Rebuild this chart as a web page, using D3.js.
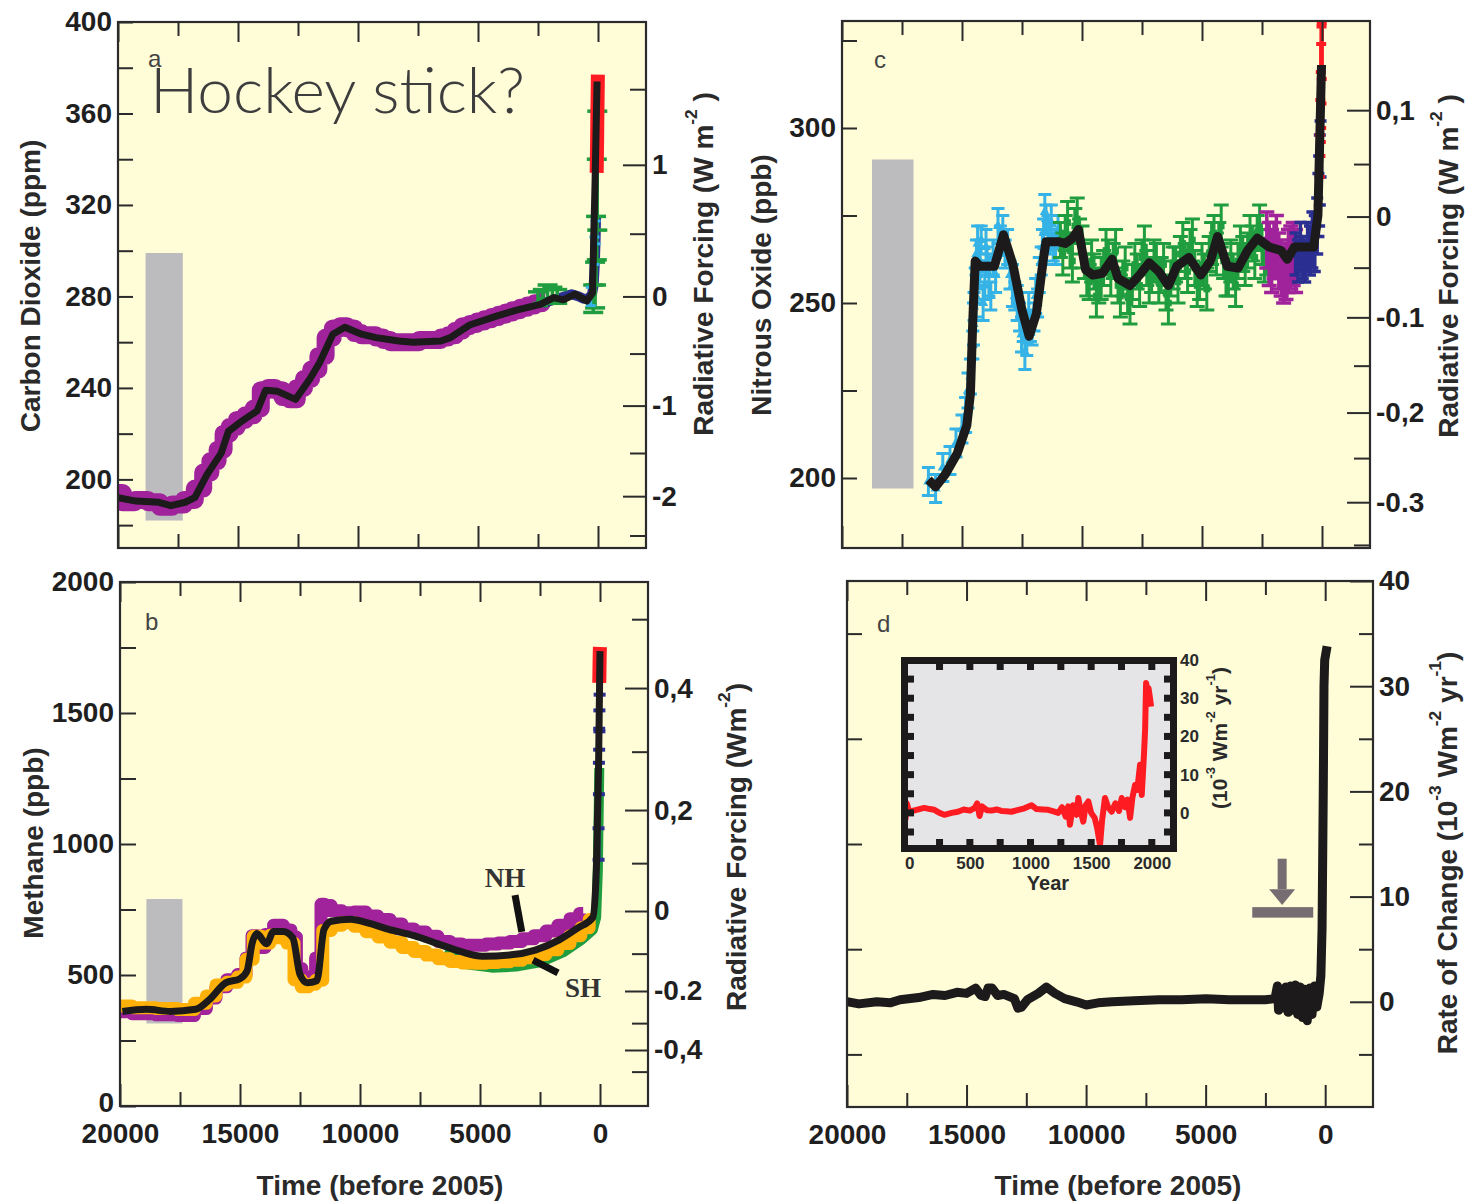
<!DOCTYPE html>
<html>
<head>
<meta charset="utf-8">
<script src="https://cdn.jsdelivr.net/npm/d3@7"></script>
<style>
  body { margin: 0; background: #fff; }
</style>
</head>
<body>
<script>
// ---------- data ----------
const timeDomain = [20000, -2000];
const majorYears = [20000, 15000, 10000, 5000, 0];
const minorYears = [17500, 12500, 7500, 2500];

// (a) carbon dioxide, ppm
const co2Ticks = [200, 240, 280, 320, 360, 400];
const co2Minor = [180, 220, 260, 300, 340, 380];
const co2RfTicks = [1, 0, -1, -2];
const co2RfLabels = ['1', '0', '-1', '-2'];
const co2RfMinor = [1.5, 0.5, -0.5, -1.5, -2.5];
const co2Glacial = [182, 299];
const co2GlacialSpan = [18850, 17300];
const co2Smooth = [[20000, 192], [19250, 190.5], [18300, 190], [17800, 188.5], [17200, 190], [16800, 192],
  [16300, 202], [15700, 211.5], [15400, 221], [14900, 225], [14200, 230], [13850, 239], [13350, 238.5],
  [12600, 235], [12000, 244], [11600, 251], [11050, 263.5], [10550, 266.5], [9850, 263.5], [9250, 262],
  [8300, 260.5], [7700, 260], [6550, 260.5], [6150, 262], [5350, 267.5], [4200, 271.5], [3400, 274],
  [2400, 276.5], [1850, 279.5], [1450, 278.5], [950, 281], [460, 278], [230, 281.5], [120, 331], [40, 374]];
const co2Dome = [[20000, 194], [19600, 190], [19000, 191], [18500, 190], [18000, 188], [17500, 189],
  [17000, 191], [16600, 196], [16300, 203], [16000, 208], [15700, 213], [15500, 220], [15200, 223],
  [14900, 226], [14500, 228], [14200, 231], [13900, 239], [13600, 240], [13300, 239], [13000, 236],
  [12700, 235], [12400, 240], [12100, 244], [11800, 248], [11500, 254], [11200, 262], [10900, 266],
  [10600, 267], [10300, 266], [10000, 264], [9700, 263], [9400, 263], [9100, 262], [8800, 261],
  [8500, 260], [8200, 260], [7900, 260], [7600, 260], [7300, 261], [7000, 261], [6700, 261],
  [6400, 262], [6100, 263], [5800, 265], [5500, 267], [5200, 268], [4900, 269], [4600, 270],
  [4300, 271], [4000, 272], [3700, 273], [3400, 274], [3100, 275], [2800, 276], [2500, 277], [2200, 278]];
const co2Navy = [[2300, 277], [2000, 278], [1700, 279], [1400, 280], [1100, 281], [800, 280], [600, 279],
  [400, 279], [250, 281], [180, 285], [130, 295], [100, 305], [80, 315]];
const co2Green = [[2500, 279, 3], [2300, 280, 3], [2100, 282, 3], [1900, 281, 3], [1700, 280, 3],
  [200, 279, 6], [120, 285, 10], [80, 300, 15], [50, 318, 22], [30, 335, 26]];
const co2Cyan = [[300, 280, 4], [150, 300, 6], [100, 308, 5]];
const co2Red = [[55, 334], [45, 342], [35, 350], [25, 360], [15, 368], [5, 377]];

// (b) methane, ppb
const ch4Ticks = [0, 500, 1000, 1500, 2000];
const ch4Minor = [250, 750, 1250, 1750];
const ch4RfTicks = [0.4, 0.2, 0, -0.2, -0.4];
const ch4RfLabels = ['0,4', '0,2', '0', '-0.2', '-0,4'];
const ch4RfMinor = [0.5, 0.3, 0.1, -0.1, -0.3, -0.5];
const ch4Glacial = [315, 790];
const ch4GlacialSpan = [18900, 17400];
const ch4Smooth = [[19900, 361], [18900, 369], [17900, 361], [16850, 369], [16250, 408], [15600, 470],
  [15000, 486], [14700, 517], [14500, 619], [14300, 658], [13900, 619], [13600, 666], [13200, 666],
  [12800, 642], [12500, 502], [12200, 470], [11800, 478], [11500, 674], [11200, 705], [10400, 713],
  [9600, 697], [8800, 674], [7750, 650], [6750, 619], [5750, 588], [4900, 572], [3700, 577],
  [2700, 595], [1700, 634], [900, 681], [300, 720], [150, 908], [60, 1299], [0, 1736]];
const ch4North = [[20000, 360], [19000, 352], [18000, 348], [17200, 345], [16600, 372], [16200, 412],
  [15800, 455], [15300, 482], [14900, 502], [14600, 565], [14400, 650], [14100, 605], [13800, 655],
  [13400, 690], [13000, 672], [12750, 645], [12550, 525], [12300, 482], [12000, 492], [11700, 565],
  [11550, 770], [11400, 765], [11000, 745], [10500, 738], [10000, 740], [9500, 725], [9000, 712],
  [8500, 695], [8000, 676], [7500, 664], [7000, 648], [6500, 628], [6000, 618], [5500, 614],
  [5000, 614], [4500, 618], [4000, 622], [3500, 628], [3000, 638], [2500, 650], [2000, 668],
  [1500, 690], [1000, 715], [700, 735]];
const ch4South = [[20000, 382], [19000, 375], [18000, 372], [17200, 368], [16600, 392], [16200, 420],
  [15800, 462], [15300, 472], [14900, 492], [14600, 560], [14300, 648], [13900, 622], [13600, 652],
  [13200, 642], [12900, 622], [12600, 482], [12300, 455], [12000, 465], [11700, 480], [11400, 670],
  [11000, 690], [10500, 700], [10000, 686], [9500, 665], [9000, 645], [8500, 625], [8000, 605],
  [7500, 590], [7000, 576], [6500, 562], [6000, 552], [5500, 546], [5000, 545], [4500, 548],
  [4000, 551], [3500, 556], [3000, 566], [2500, 578], [2000, 596], [1500, 620], [1000, 650],
  [600, 680], [300, 712]];
const ch4Green = [[6500, 585], [5500, 540], [4500, 528], [3500, 532], [2500, 548], [1500, 588],
  [800, 632], [300, 672], [160, 720], [90, 900], [50, 1150], [30, 1290]];
const ch4Navy = [[60, 1000, 60], [45, 1250, 60], [35, 1400, 40], [25, 1470, 40], [15, 1600, 30], [8, 1660, 25]];
const ch4Red = [[30, 1615], [20, 1680], [10, 1730], [2, 1752]];
const nhLabel = { t: 4800, v: 836 };
const nhPointer = [[3540, 805], [3260, 665]];
const shLabel = { t: 1460, v: 416 };
const shPointer = [[2790, 557], [1750, 508]];

// (c) nitrous oxide, ppb
const n2oTicks = [200, 250, 300];
const n2oMinor = [225, 275, 325];
const n2oRfTicks = [0.1, 0, -0.1, -0.2, -0.3];
const n2oRfLabels = ['0,1', '0', '-0.1', '-0,2', '-0.3'];
const n2oRfMinor = [0.05, -0.05, -0.15, -0.25, -0.35];
const n2oGlacial = [197, 291];
const n2oGlacialSpan = [18750, 17020];
const n2oSmooth = [[16400, 199.5], [16100, 197.5], [15700, 201], [15200, 207], [14800, 215], [14650, 224],
  [14550, 245], [14450, 262], [14250, 260.5], [13950, 260.5], [13650, 260.5], [13270, 269.5],
  [12880, 261], [12500, 248], [12200, 240.5], [11900, 247], [11600, 263], [11500, 267.5],
  [11000, 267.5], [10700, 267], [10400, 268.5], [10150, 271], [9850, 259.5], [9550, 258],
  [9150, 258.5], [8750, 262.5], [8500, 257], [8000, 255], [7600, 258], [7200, 261.5], [6800, 259],
  [6400, 255], [6050, 260.5], [5550, 263], [5050, 258], [4650, 262], [4350, 269], [3950, 260.5],
  [3500, 260], [3100, 265], [2700, 268.5], [2200, 266], [1700, 265], [1450, 262.5], [1150, 266],
  [350, 266], [170, 275], [100, 295], [20, 318]];
const n2oCyan = [[16400, 199, 4], [16100, 197, 4], [15800, 203, 4], [15500, 205, 4], [15250, 210, 4],
  [15000, 214, 4], [14850, 218, 5], [14750, 225, 5], [14650, 229, 5], [14550, 238, 4], [14500, 249, 4],
  [14450, 255, 5], [14400, 264, 4], [14300, 258, 4], [14200, 268, 4], [14050, 255, 4], [13950, 262, 4],
  [13800, 252, 4], [13600, 258, 5], [13400, 268, 4], [13200, 264, 4], [13000, 258, 4], [12800, 252, 4],
  [12600, 246, 4], [12450, 243, 4], [12300, 239, 4], [12150, 243, 4], [12000, 246, 4], [11850, 250, 4],
  [11700, 262, 4], [11600, 270, 4], [11500, 274, 4], [11350, 268, 4], [11200, 266, 4], [11000, 271, 4]];
const n2oCyanExtra = [[14520, 244, 6], [14420, 252, 6], [14350, 267, 5], [14250, 262, 6], [14120, 250, 5],
  [14000, 266, 5], [13880, 258, 6], [13700, 263, 5], [13500, 272, 5], [13300, 270, 5], [13100, 266, 5],
  [12900, 255, 6], [12700, 250, 5], [12520, 241, 5], [12380, 236, 5], [12220, 247, 6], [12080, 243, 5],
  [11930, 252, 5], [11780, 258, 5], [11650, 266, 5], [11550, 276, 5], [11420, 270, 5], [11280, 273, 5],
  [11100, 266, 5]];
const n2oGreen = [[10900, 268, 5], [10700, 270, 5], [10500, 265, 5], [10300, 272, 5], [10100, 269, 5],
  [9900, 262, 5], [9700, 256, 5], [9500, 259, 5], [9300, 255, 5], [9100, 260, 5], [8900, 263, 5],
  [8700, 262, 5], [8500, 255, 5], [8300, 257, 5], [8100, 252, 5], [7900, 256, 5], [7700, 259, 5],
  [7500, 263, 5], [7300, 260, 5], [7100, 258, 5], [6900, 262, 5], [6700, 258, 5], [6500, 253, 5],
  [6300, 257, 5], [6100, 261, 5], [5900, 264, 5], [5700, 262, 5], [5500, 266, 5], [5300, 260, 5],
  [5100, 256, 5], [4900, 259, 5], [4700, 264, 5], [4500, 270, 5], [4300, 268, 5], [4100, 262, 5],
  [3900, 257, 5], [3700, 259, 5], [3500, 262, 5], [3300, 264, 5], [3100, 265, 5], [2900, 267, 5],
  [2700, 270, 5], [2500, 266, 5], [2300, 263, 5]];
const n2oGreenExtra = [[10800, 264, 6], [10600, 273, 6], [10400, 262, 6], [10200, 274, 6], [10000, 266, 6],
  [9800, 258, 6], [9600, 262, 6], [9400, 252, 6], [9200, 257, 6], [9000, 265, 6], [8800, 258, 6],
  [8600, 265, 6], [8400, 252, 6], [8200, 260, 6], [8000, 250, 6], [7800, 261, 6], [7600, 255, 6],
  [7400, 266, 6], [7200, 256, 6], [7000, 262, 6], [6800, 256, 6], [6600, 261, 6], [6400, 250, 6],
  [6200, 260, 6], [6000, 256, 6], [5800, 267, 6], [5600, 259, 6], [5400, 268, 6], [5200, 255, 6],
  [5000, 261, 6], [4800, 254, 6], [4600, 267, 6], [4400, 264, 6], [4200, 272, 6], [4000, 258, 6],
  [3800, 262, 6], [3600, 255, 6], [3400, 266, 6], [3200, 261, 6], [3000, 269, 6], [2800, 263, 6],
  [2600, 272, 6], [2400, 262, 6]];
const n2oPurple = [[2300, 268, 8], [2200, 264, 9], [2100, 262, 9], [2000, 265, 8], [1900, 266, 9],
  [1800, 262, 8], [1700, 260, 8], [1600, 258, 8], [1500, 259, 8], [1400, 262, 9], [1300, 263, 9],
  [1200, 264, 9], [1100, 262, 9]];
const n2oNavy = [[1100, 264, 6], [1000, 262, 6], [900, 266, 7], [800, 263, 6], [700, 262, 6],
  [600, 266, 7], [500, 265, 7], [400, 268, 8], [300, 267, 8], [200, 272, 8], [150, 278, 9],
  [120, 282, 10], [90, 288, 10], [60, 294, 8]];
const n2oRed = [[90, 292, 6], [70, 300, 8], [50, 306, 10], [35, 312, 12], [20, 318, 11], [10, 322, 8]];

// (d) rate of change of radiative forcing, 10^-3 W m^-2 yr^-1
const rateTicks = [0, 10, 20, 30, 40];
const rateMinor = [-5, 5, 15, 25, 35];
const rateSmooth = [[20000, 0], [19500, -0.2], [18750, 0], [18200, -0.1], [17780, 0.2], [17000, 0.4],
  [16400, 0.7], [15900, 0.6], [15400, 0.9], [15000, 0.8], [14620, 1.3], [14400, 0.6], [14220, 0.5],
  [14100, 1.3], [13930, 1.3], [13700, 0.6], [13440, 0.7], [13000, 0.3], [12850, -0.6], [12700, -0.5],
  [12450, 0.2], [12000, 0.8], [11660, 1.4], [11300, 0.8], [10900, 0.3], [10400, 0], [9990, -0.3],
  [9500, -0.1], [8910, 0], [8000, 0.1], [6950, 0.2], [6000, 0.2], [4980, 0.3], [4000, 0.2],
  [3010, 0.2], [2500, 0.2], [2100, 0.3], [2000, 1.5], [1950, -0.8], [1850, 1.2], [1750, -0.6],
  [1650, 1.4], [1550, -1], [1450, 1.5], [1350, -0.8], [1250, 1.6], [1150, -1.2], [1050, 1.4],
  [950, -1.5], [850, 1.2], [750, -1.8], [650, 1.3], [550, -1.2], [450, 1.5], [350, -0.5], [250, 0.8],
  [180, 2.5], [130, 7], [80, 20], [50, 30], [20, 32.5], [-80, 33.8]];
const arrowMark = { t: 1800, top: 13.6, headTop: 10.7, tip: 9.2 };
const barMark = { t0: 3050, t1: 500, v0: 9.0, v1: 8.0 };

// inset of (d): last 2000 years
const insetYears = [0, 500, 1000, 1500, 2000];
const insetYearMarks = [250, 500, 750, 1000, 1250, 1500, 1750, 2000];
const insetTicks = [0, 10, 20, 30, 40];
const insetMarks = [-5, 0, 5, 10, 15, 20, 25, 30, 35];
const insetRate = [[-40, 1.3], [-30, -1.5], [-20, 2.5], [0, 0.3], [60, 0.8], [124, 1.3], [170, 1],
  [207, 0.8], [250, 0], [289, -0.5], [350, 0], [402, 0.3], [450, 0.9], [500, 0.6], [540, 1.3],
  [560, 2.5], [580, -0.8], [600, 1.7], [640, 0.7], [678, 0.6], [720, 0.9], [760, 0.5], [800, 0.4],
  [843, 0.3], [900, 0.8], [950, 1.2], [1008, 2], [1050, 1], [1100, 0.9], [1146, 0.8], [1190, 0.4],
  [1229, 0], [1260, 1.5], [1290, -1], [1311, 1.7], [1325, -3.1], [1350, 2], [1380, -0.5],
  [1394, 3.9], [1410, 1], [1435, -2.3], [1455, 2], [1477, 3], [1500, 0], [1529, -1.3], [1550, -4],
  [1573, -8.4], [1590, -2], [1614, 3.9], [1640, 1.5], [1669, 0.3], [1700, 2.5], [1730, 0.5],
  [1752, 3.9], [1780, 1.5], [1800, 3.5], [1821, -1.3], [1840, 4], [1862, 7.3], [1880, 6],
  [1903, 12.6], [1917, 4.7], [1935, 15], [1945, 22], [1953, 34], [1963, 32], [1973, 32.6],
  [1985, 30], [1994, 27.8]];

// forcing formulas used for the right-hand axes
const rfToCo2 = (rf) => 280 * Math.exp(rf / 5.35);
const rfToN2o = (rf) => Math.pow(16.574 + rf / 0.112, 2);
const rfToCh4 = (rf) => Math.pow(27.28 + rf * 31.65, 2);

// ---------- layout ----------
const FONT = 'Liberation Sans, Arial, Helvetica, sans-serif';
const INK = '#2b2b2b';
const BG = '#fffcd8';
const C = {
  purple: '#a0239c', navy: '#2a2f91', green: '#1f9d3f', cyan: '#35b3e6',
  red: '#ff1b22', orange: '#ffb10a', black: '#1c1a1a', grey: '#bcbcbe'
};

const svg = d3.select('body').append('svg').attr('width', 1472).attr('height', 1202);
const defs = svg.append('defs');

function makePanel(id, box, yDomain) {
  const x = d3.scaleLinear().domain(timeDomain).range([box.x0, box.x1]);
  const y = d3.scaleLinear().domain(yDomain).range([box.y1, box.y0]);
  defs.append('clipPath').attr('id', 'clip-' + id)
    .append('rect')
    .attr('x', box.x0).attr('y', box.y0)
    .attr('width', box.x1 - box.x0).attr('height', box.y1 - box.y0);
  const g = svg.append('g');
  g.append('rect')
    .attr('x', box.x0).attr('y', box.y0)
    .attr('width', box.x1 - box.x0).attr('height', box.y1 - box.y0)
    .attr('fill', BG);
  const plot = g.append('g').attr('clip-path', `url(#clip-${id})`);
  return { box, x, y, g, plot };
}

function ticks(p, side, scale, values, len, labels) {
  const maker = { top: d3.axisTop, bottom: d3.axisBottom, left: d3.axisLeft, right: d3.axisRight }[side];
  const pos = {
    top: `translate(0,${p.box.y0})`, bottom: `translate(0,${p.box.y1})`,
    left: `translate(${p.box.x0},0)`, right: `translate(${p.box.x1},0)`
  }[side];
  const axis = maker(scale)
    .tickValues(values)
    .tickSize(-len)
    .tickPadding(side === 'bottom' ? 17 : 6)
    .tickFormat(labels ? (d, i) => labels[i] : () => '');
  const a = p.g.append('g').attr('transform', pos).call(axis);
  a.select('.domain').remove();
  a.selectAll('.tick line').attr('stroke', INK).attr('stroke-width', 2);
  a.selectAll('.tick text')
    .attr('font-family', FONT).attr('font-size', 28).attr('font-weight', 'bold').attr('fill', '#1f1f1f');
  return a;
}

function timeTicks(p, withLabels) {
  ticks(p, 'top', p.x, majorYears, 20);
  ticks(p, 'top', p.x, minorYears, 14);
  ticks(p, 'bottom', p.x, majorYears, 22, withLabels ? majorYears.map(d3.format('d')) : null);
  ticks(p, 'bottom', p.x, minorYears, 14);
}

function frame(p) {
  p.g.append('rect')
    .attr('x', p.box.x0).attr('y', p.box.y0)
    .attr('width', p.box.x1 - p.box.x0).attr('height', p.box.y1 - p.box.y0)
    .attr('fill', 'none').attr('stroke', INK).attr('stroke-width', 2.2);
}

function glacialBar(p, span, range) {
  p.plot.append('rect')
    .attr('x', p.x(span[0])).attr('width', p.x(span[1]) - p.x(span[0]))
    .attr('y', p.y(range[1])).attr('height', p.y(range[0]) - p.y(range[1]))
    .attr('fill', C.grey);
}

function band(p, data, color, width, curve) {
  p.plot.append('path')
    .datum(data)
    .attr('d', d3.line().x((d) => p.x(d[0])).y((d) => p.y(d[1])).curve(curve || d3.curveLinear))
    .attr('fill', 'none')
    .attr('stroke', color)
    .attr('stroke-width', width)
    .attr('stroke-linejoin', 'round');
}

function errorBars(p, data, color, cap, width, marker) {
  const g = p.plot.append('g').attr('stroke', color).attr('stroke-width', width);
  g.selectAll('line.v').data(data).join('line').attr('class', 'v')
    .attr('x1', (d) => p.x(d[0])).attr('x2', (d) => p.x(d[0]))
    .attr('y1', (d) => p.y(d[1] - d[2])).attr('y2', (d) => p.y(d[1] + d[2]));
  [-1, 1].forEach((s) => {
    g.selectAll('line.c' + (s + 1)).data(data).join('line').attr('class', 'c' + (s + 1))
      .attr('x1', (d) => p.x(d[0]) - cap / 2).attr('x2', (d) => p.x(d[0]) + cap / 2)
      .attr('y1', (d) => p.y(d[1] + s * d[2])).attr('y2', (d) => p.y(d[1] + s * d[2]));
  });
  if (marker) {
    p.plot.append('g').selectAll('path').data(data).join('path')
      .attr('transform', (d) => `translate(${p.x(d[0])},${p.y(d[1])})`)
      .attr('d', d3.symbol(marker, 45))
      .attr('fill', color);
  }
}

function vTitle(x, y, parts, size) {
  const t = svg.append('text')
    .attr('transform', `translate(${x},${y}) rotate(-90)`)
    .attr('text-anchor', 'middle').attr('dominant-baseline', 'central')
    .attr('font-family', FONT).attr('font-size', size).attr('font-weight', 'bold').attr('fill', '#2a2a2a');
  let raised = false;
  parts.forEach((part) => {
    const sup = Array.isArray(part);
    const ts = t.append('tspan').text(sup ? part[0] : part);
    if (sup && !raised) { ts.attr('dy', -size * 0.42).attr('font-size', size * 0.62); raised = true; }
    else if (sup) { ts.attr('font-size', size * 0.62); }
    else if (raised) { ts.attr('dy', size * 0.42); raised = false; }
  });
}

function panelLetter(x, y, s) {
  svg.append('text').attr('x', x).attr('y', y).text(s)
    .attr('font-family', FONT).attr('font-size', 24).attr('fill', '#444');
}

// ---------- (a) CO2 ----------
const pa = makePanel('a', { x0: 118, x1: 646, y0: 22, y1: 548 }, [170, 400]);
glacialBar(pa, co2GlacialSpan, co2Glacial);
band(pa, co2Dome, C.purple, 18, d3.curveStep);
band(pa, co2Navy, C.navy, 10);
errorBars(pa, co2Green, C.green, 20, 3.5);
errorBars(pa, co2Cyan, C.cyan, 10, 3);
band(pa, co2Red, C.red, 14);
band(pa, co2Smooth, C.black, 7);
timeTicks(pa, false);
ticks(pa, 'left', pa.y, co2Ticks, 15, co2Ticks.map(String));
ticks(pa, 'left', pa.y, co2Minor, 15);
ticks(pa, 'right', pa.y, co2RfTicks.map(rfToCo2), 23, co2RfLabels);
ticks(pa, 'right', pa.y, co2RfMinor.map(rfToCo2), 16);
frame(pa);

// ---------- (c) N2O ----------
const pc = makePanel('c', { x0: 842, x1: 1370, y0: 21, y1: 548 }, [180, 330.57]);
glacialBar(pc, n2oGlacialSpan, n2oGlacial);
errorBars(pc, n2oCyan, C.cyan, 13, 3, d3.symbolTriangle);
errorBars(pc, n2oCyanExtra, C.cyan, 13, 3, d3.symbolTriangle);
errorBars(pc, n2oGreenExtra, C.green, 15, 3, d3.symbolSquare);
errorBars(pc, n2oGreen, C.green, 15, 3, d3.symbolSquare);
errorBars(pc, n2oPurple, C.purple, 15, 3.5, d3.symbolSquare);
errorBars(pc, n2oNavy, C.navy, 12, 3.5, d3.symbolSquare);
errorBars(pc, n2oRed, C.red, 10, 4);
band(pc, n2oSmooth, C.black, 9);
timeTicks(pc, false);
ticks(pc, 'left', pc.y, n2oTicks, 15, n2oTicks.map(String));
ticks(pc, 'left', pc.y, n2oMinor, 15);
ticks(pc, 'right', pc.y, n2oRfTicks.map(rfToN2o), 23, n2oRfLabels);
ticks(pc, 'right', pc.y, n2oRfMinor.map(rfToN2o), 16);
frame(pc);

// ---------- (b) CH4 ----------
const pb = makePanel('b', { x0: 120, x1: 648, y0: 582, y1: 1106 }, [0, 2000]);
glacialBar(pb, ch4GlacialSpan, ch4Glacial);
band(pb, ch4North, C.purple, 13, d3.curveStep);
band(pb, ch4Green, C.green, 10);
band(pb, ch4South, C.orange, 13, d3.curveStep);
errorBars(pb, ch4Navy, C.navy, 12, 4);
band(pb, ch4Red, C.red, 14);
band(pb, ch4Smooth, C.black, 7, d3.curveMonotoneX);
[nhPointer, shPointer].forEach((pt) => {
  pb.plot.append('line')
    .attr('x1', pb.x(pt[0][0])).attr('y1', pb.y(pt[0][1]))
    .attr('x2', pb.x(pt[1][0])).attr('y2', pb.y(pt[1][1]))
    .attr('stroke', '#111').attr('stroke-width', 7);
});
[[nhLabel, 'NH'], [shLabel, 'SH']].forEach(([pos, s]) => {
  pb.g.append('text').attr('x', pb.x(pos.t)).attr('y', pb.y(pos.v)).text(s)
    .attr('font-family', 'Liberation Serif, Times New Roman, serif')
    .attr('font-size', 27).attr('font-weight', 'bold').attr('fill', '#333');
});
timeTicks(pb, true);
ticks(pb, 'left', pb.y, ch4Ticks, 16, ch4Ticks.map(String))
  .selectAll('.tick text').attr('dy', (d) => (d === 0 ? '0.2em' : '0.32em'));
ticks(pb, 'left', pb.y, ch4Minor, 16);
ticks(pb, 'right', pb.y, ch4RfTicks.map(rfToCh4), 23, ch4RfLabels);
ticks(pb, 'right', pb.y, ch4RfMinor.map(rfToCh4), 16);
frame(pb);

// ---------- (d) rate of change ----------
const pd = makePanel('d', { x0: 847, x1: 1373, y0: 581, y1: 1107 }, [-10, 40]);
band(pd, rateSmooth, C.black, 9);
const ax = pd.x(arrowMark.t);
pd.plot.append('rect')
  .attr('x', ax - 4.5).attr('width', 9)
  .attr('y', pd.y(arrowMark.top)).attr('height', pd.y(arrowMark.headTop) - pd.y(arrowMark.top))
  .attr('fill', '#766d72');
pd.plot.append('path')
  .attr('d', `M${ax - 13},${pd.y(arrowMark.headTop)}L${ax + 13},${pd.y(arrowMark.headTop)}L${ax},${pd.y(arrowMark.tip)}Z`)
  .attr('fill', '#766d72');
pd.plot.append('rect')
  .attr('x', pd.x(barMark.t0)).attr('width', pd.x(barMark.t1) - pd.x(barMark.t0))
  .attr('y', pd.y(barMark.v0)).attr('height', pd.y(barMark.v1) - pd.y(barMark.v0))
  .attr('fill', '#766d72');
timeTicks(pd, true);
ticks(pd, 'left', pd.y, rateMinor, 15);
ticks(pd, 'right', pd.y, rateTicks, 23, rateTicks.map(String));
ticks(pd, 'right', pd.y, rateMinor, 14);
frame(pd);

// inset
const inset = { x0: 908, x1: 1170, y0: 664, y1: 845 };
const ix = d3.scaleLinear().domain([-10, 2150]).range([inset.x0, inset.x1]);
const iy = d3.scaleLinear().domain([-8.4, 38.95]).range([inset.y1, inset.y0]);
const ig = svg.append('g');
defs.append('clipPath').attr('id', 'clip-inset').append('rect')
  .attr('x', inset.x0).attr('y', inset.y0).attr('width', inset.x1 - inset.x0).attr('height', inset.y1 - inset.y0);
ig.append('rect')
  .attr('x', inset.x0 - 3.5).attr('y', inset.y0 - 3.5)
  .attr('width', inset.x1 - inset.x0 + 7).attr('height', inset.y1 - inset.y0 + 7)
  .attr('fill', '#e5e5e7').attr('stroke', '#1c1a1a').attr('stroke-width', 7);
ig.append('path').datum(insetRate)
  .attr('clip-path', 'url(#clip-inset)')
  .attr('d', d3.line().x((d) => ix(d[0])).y((d) => iy(d[1])))
  .attr('fill', 'none').attr('stroke', C.red).attr('stroke-width', 6).attr('stroke-linejoin', 'round');
const marks = ig.append('g').attr('fill', '#1c1a1a');
insetYearMarks.forEach((yr) => {
  marks.append('rect').attr('x', ix(yr) - 3.5).attr('y', inset.y0).attr('width', 7).attr('height', 6);
  marks.append('rect').attr('x', ix(yr) - 3.5).attr('y', inset.y1 - 6).attr('width', 7).attr('height', 6);
});
insetMarks.forEach((v) => {
  marks.append('rect').attr('x', inset.x0).attr('y', iy(v) - 3.5).attr('width', 6).attr('height', 7);
  marks.append('rect').attr('x', inset.x1 - 6).attr('y', iy(v) - 3.5).attr('width', 6).attr('height', 7);
});
const insetAxisStyle = (a) => {
  a.select('.domain').remove();
  a.selectAll('.tick line').remove();
  a.selectAll('.tick text').attr('font-family', FONT).attr('font-size', 17).attr('font-weight', 'bold').attr('fill', '#2a2a2a');
};
ig.append('g').attr('transform', `translate(0,${inset.y1 + 7})`)
  .call(d3.axisBottom(ix).tickValues(insetYears).tickSize(0).tickPadding(5).tickFormat(d3.format('d')))
  .call(insetAxisStyle);
ig.append('g').attr('transform', `translate(${inset.x1 + 7},0)`)
  .call(d3.axisRight(iy).tickValues(insetTicks).tickSize(0).tickPadding(3).tickFormat(d3.format('d')))
  .call(insetAxisStyle);
ig.append('text').attr('x', 1048).attr('y', 890).attr('text-anchor', 'middle').text('Year')
  .attr('font-family', FONT).attr('font-size', 20).attr('font-weight', 'bold').attr('fill', '#2a2a2a');
vTitle(1219, 738, ['(10', ['-3'], ' Wm', ['-2'], ' yr', ['-1'], ')'], 21);

// ---------- titles ----------
vTitle(30, 286, ['Carbon Dioxide (ppm)'], 28);
vTitle(703, 264, ['Radiative Forcing (W m', ['-2'], ' )'], 28);
vTitle(761, 285, ['Nitrous Oxide (ppb)'], 28);
vTitle(1448, 266, ['Radiative Forcing (W m', ['-2'], ' )'], 28);
vTitle(33, 843, ['Methane (ppb)'], 28);
vTitle(736, 847, ['Radiative Forcing (Wm', ['-2'], ')'], 28);
vTitle(1447, 853, ['Rate of Change (10', ['-3'], ' Wm', ['-2'], ' yr', ['-1'], ')'], 28);

[[380, 'Time (before 2005)'], [1118, 'Time (before 2005)']].forEach(([x, s]) => {
  svg.append('text').attr('x', x).attr('y', 1195).attr('text-anchor', 'middle').text(s)
    .attr('font-family', FONT).attr('font-size', 28).attr('font-weight', 'bold').attr('fill', '#2a2a2a');
});

panelLetter(148, 67, 'a');
panelLetter(145, 630, 'b');
panelLetter(874, 68, 'c');
panelLetter(877, 632, 'd');

svg.append('text').attr('x', 150).attr('y', 113).text('Hockey stick?')
  .attr('font-family', 'Lato, Open Sans, sans-serif').attr('font-weight', 300)
  .attr('font-size', 64).attr('fill', '#3d3d3d');
</script>
</body>
</html>
